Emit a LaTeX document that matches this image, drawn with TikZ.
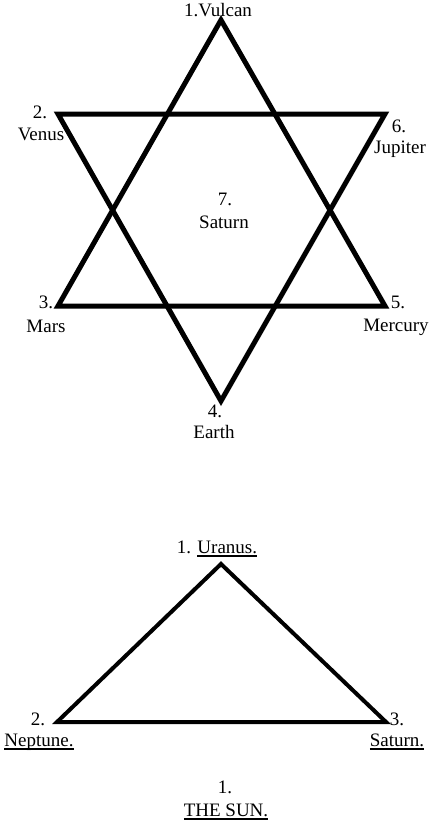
\documentclass[tikz,border=0pt]{standalone}
\usepackage{fontspec}
\setmainfont{Liberation Serif}
\newcommand{\planetul}[1]{\setbox0\hbox{#1}\rlap{\rule[-4pt]{\wd0}{1.8pt}}\box0}

\begin{document}
\begin{tikzpicture}[
    x=1pt, y=-1pt,
    every node/.style={font=\fontsize{19}{21}\selectfont, inner sep=0pt, anchor=base},
    starline/.style={line width=5pt, line join=miter},
    triline/.style={line width=4pt, line join=miter},
]
\useasboundingbox (0,0) rectangle (433,823);

% hexagram: two interlaced triangles
\coordinate (vulcan) at (221,20);
\coordinate (venus) at (58,114);
\coordinate (mars) at (58,306);
\coordinate (earth) at (221,401);
\coordinate (mercury) at (385,306);
\coordinate (jupiter) at (385,114);

\draw[starline] (vulcan) -- (mars) -- (mercury) -- cycle;
\draw[starline] (venus) -- (jupiter) -- (earth) -- cycle;

% star labels
\node (lvulcan) at (218,16) {1.Vulcan};
\node (nvenus) at (40,118) {2.};
\node (lvenus) at (41,140) {Venus};
\node (njupiter) at (399,132) {6.};
\node (ljupiter) at (400,153) {Jupiter};
\node (nsaturn) at (225,205) {7.};
\node (lsaturn) at (224,228) {Saturn};
\node (nmars) at (46,308) {3.};
\node (lmars) at (46,332) {Mars};
\node (nmercury) at (398,308) {5.};
\node (lmercury) at (396,331) {Mercury};
\node (nearth) at (215,417) {4.};
\node (learth) at (214,438) {Earth};

% lower triangle
\coordinate (uranus) at (221,564);
\coordinate (neptune) at (57,722);
\coordinate (saturn) at (386,722);

\draw[triline] (uranus) -- (neptune) -- (saturn) -- cycle;

% triangle labels
\node (luranus) at (217,553) {1. \planetul{Uranus.}};
\node (nneptune) at (38,725) {2.};
\node (lneptune) at (39,746) {\planetul{Neptune.}};
\node (nsaturn2) at (397,725) {3.};
\node (lsaturn2) at (397,746) {\planetul{Saturn.}};
\node (nsun) at (225,793) {1.};
\node (lsun) at (226,816) {\planetul{THE SUN.}};

\end{tikzpicture}
\end{document}
